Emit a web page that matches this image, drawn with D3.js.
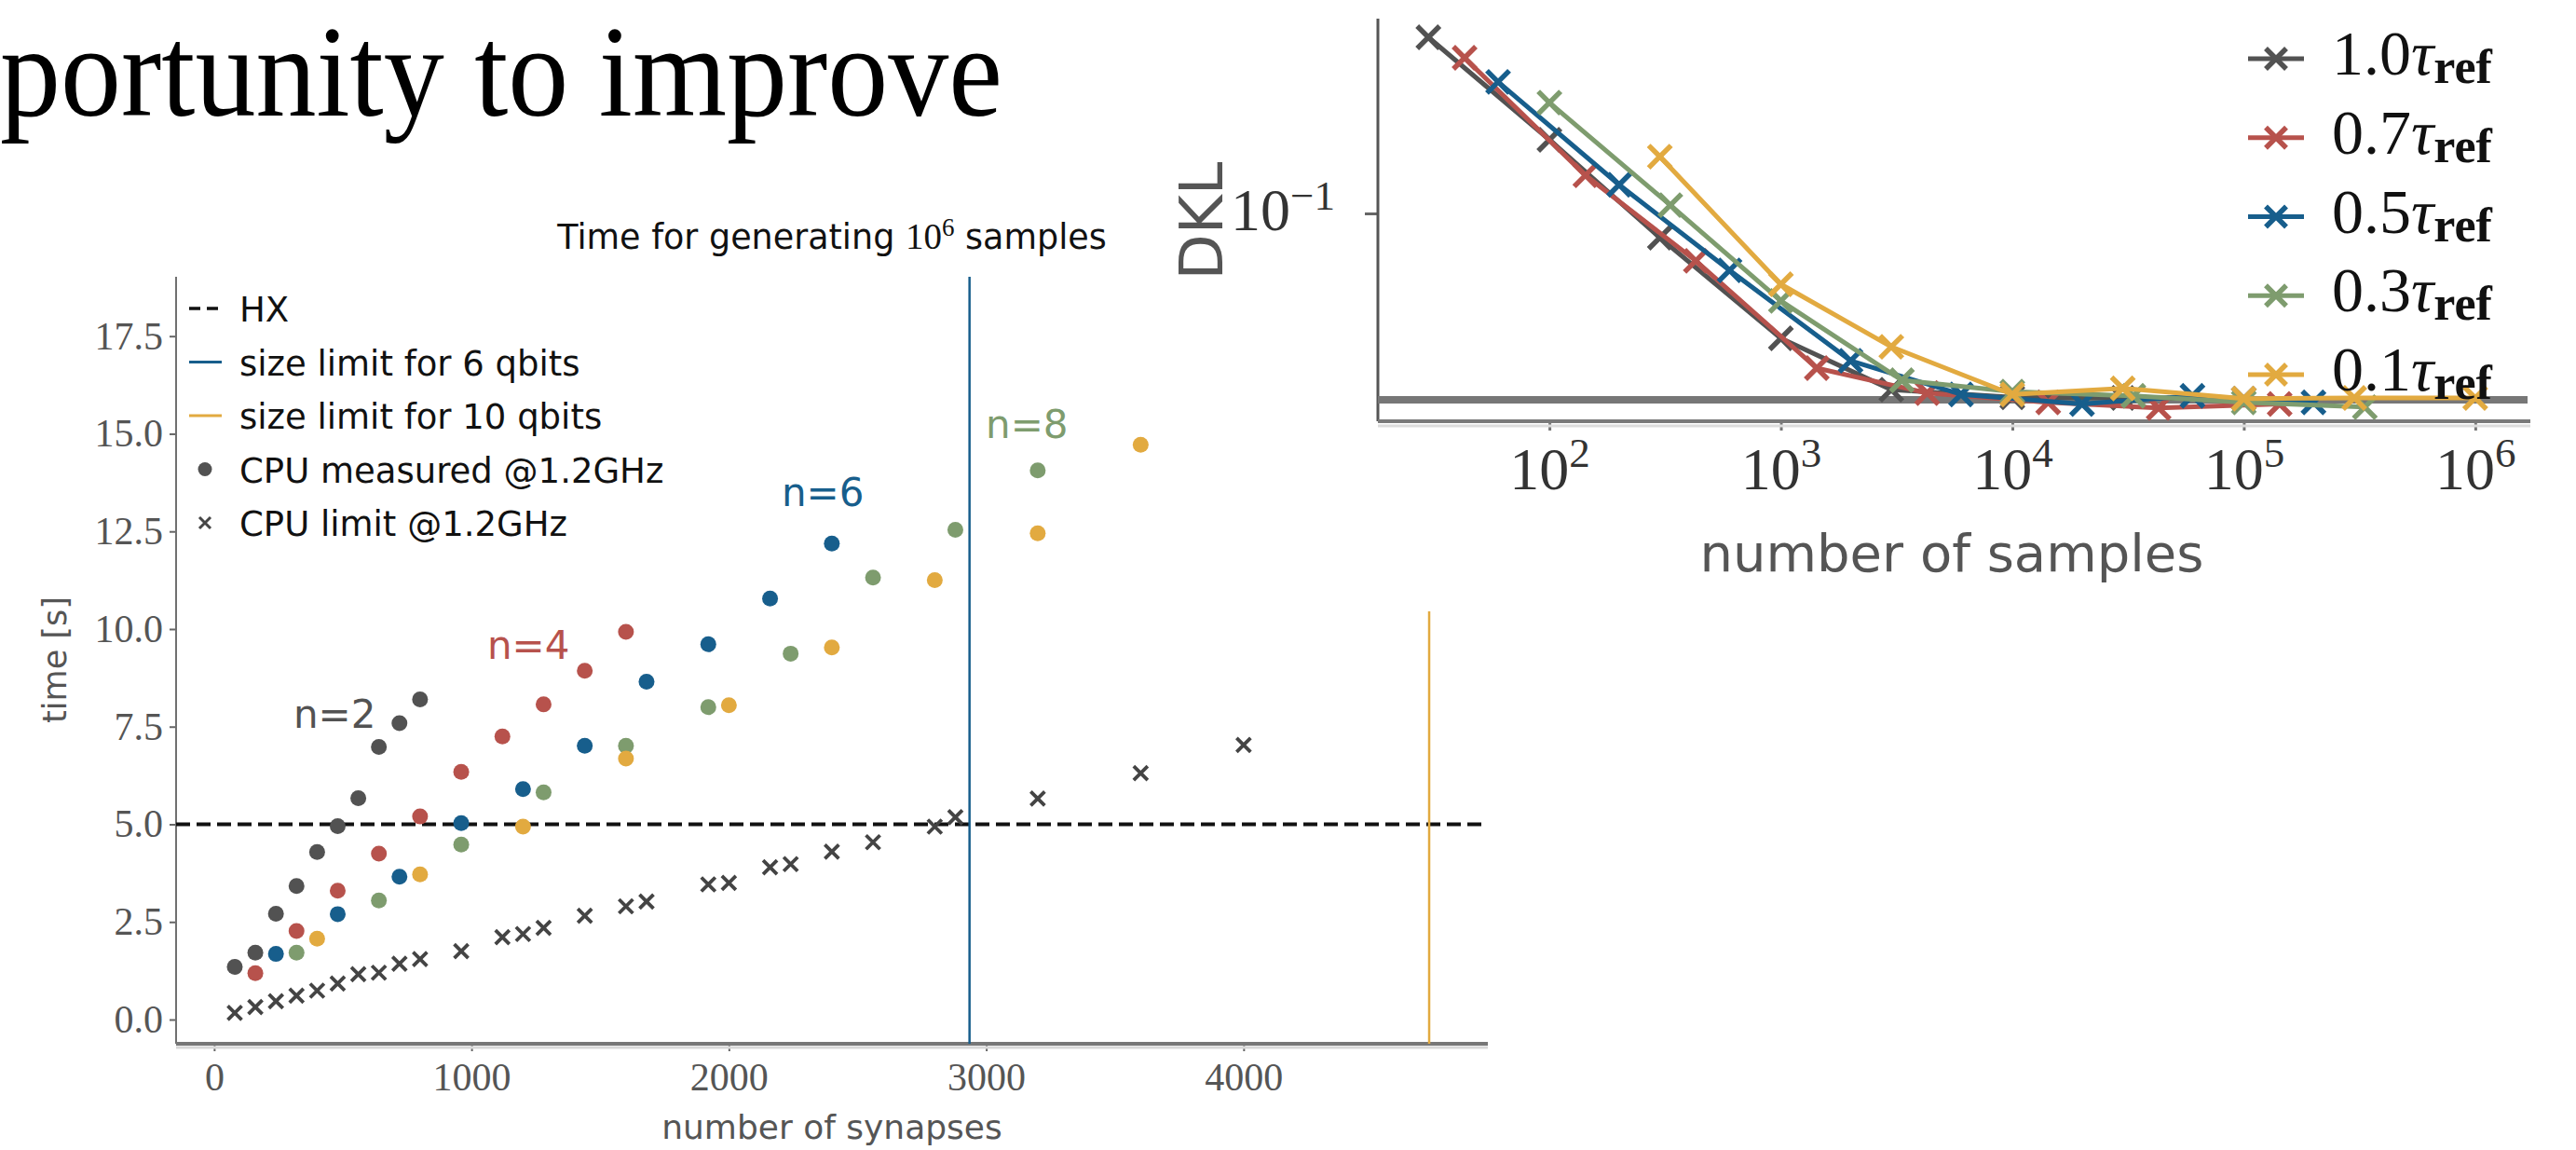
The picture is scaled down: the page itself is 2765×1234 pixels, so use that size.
<!DOCTYPE html>
<html>
<head>
<meta charset="utf-8">
<script src="https://cdn.jsdelivr.net/npm/d3@7"></script>
<style>
  body { margin: 0; background: #fff; }
  svg { display: block; }
</style>
</head>
<body>
<div id="viz"></div>
<script>
// ---- left chart: time for generating 10^6 samples
var synTicks = [0, 1000, 2000, 3000, 4000];
var timeTicks = [0, 2.5, 5, 7.5, 10, 12.5, 15, 17.5];

var n2Syn = [80, 160, 240, 320, 400, 480, 560, 640, 720, 800];
var n2Time = [1.35, 1.71, 2.71, 3.42, 4.29, 4.95, 5.67, 6.98, 7.59, 8.20];
var n4Syn = [160, 320, 480, 640, 800, 960, 1120, 1280, 1440, 1600];
var n4Time = [1.19, 2.27, 3.30, 4.25, 5.20, 6.34, 7.25, 8.07, 8.93, 9.93];
var n6Syn = [240, 480, 720, 960, 1200, 1440, 1680, 1920, 2160, 2400];
var n6Time = [1.68, 2.70, 3.66, 5.03, 5.90, 7.01, 8.65, 9.61, 10.78, 12.19];
var n8Syn = [320, 640, 960, 1280, 1600, 1920, 2240, 2560, 2880, 3200];
var n8Time = [1.71, 3.05, 4.48, 5.82, 7.01, 8.00, 9.37, 11.32, 12.54, 14.06];
var n10Syn = [400, 800, 1200, 1600, 2000, 2400, 2800, 3200, 3600];
var n10Time = [2.07, 3.72, 4.94, 6.68, 8.05, 9.53, 11.25, 12.45, 14.72];

var cpuLimitSyn = [80, 160, 240, 320, 400, 480, 560, 640, 720, 800, 960, 1120, 1200, 1280, 1440,
                   1600, 1680, 1920, 2000, 2160, 2240, 2400, 2560, 2800, 2880, 3200, 3600, 4000];
var cpuLimitTime = [0.17, 0.32, 0.47, 0.61, 0.74, 0.92, 1.16, 1.20, 1.43, 1.55, 1.75, 2.11, 2.19, 2.35, 2.66,
                    2.90, 3.02, 3.46, 3.50, 3.90, 3.98, 4.30, 4.54, 4.94, 5.18, 5.66, 6.31, 7.03];

var hxTime = 5.0;
var limit6Syn = 2935;
var limit10Syn = 4721;
var limit10Top = 10.45;

var nLabels = ["n=2", "n=4", "n=6", "n=8"];
var nLabelSyn = [308, 1061, 2205, 2998];
var nLabelTime = [7.47, 9.24, 13.15, 14.89];

// ---- right chart: DKL vs number of samples
var sampleTicks = [1e2, 1e3, 1e4, 1e5, 1e6];
var tauLabels = ["1.0", "0.7", "0.5", "0.3", "0.1"];
var tau10N = [30, 100, 300, 1000, 3000, 10000, 30000, 100000];
var tau10D = [0.757, 0.233, 0.0757, 0.0238, 0.0132, 0.0121, 0.0120, 0.0119];
var tau07N = [43, 143, 429, 1429, 4286, 14286, 42857, 142857];
var tau07D = [0.598, 0.155, 0.058, 0.0169, 0.0127, 0.0114, 0.0107, 0.0112];
var tau05N = [60, 200, 600, 2000, 6000, 20000, 60000, 200000];
var tau05D = [0.453, 0.139, 0.052, 0.0184, 0.0125, 0.0112, 0.0123, 0.0114];
var tau03N = [100, 333, 1000, 3333, 10000, 33333, 100000, 333333];
var tau03D = [0.357, 0.110, 0.0366, 0.0147, 0.0129, 0.0123, 0.0114, 0.0108];
var tau01N = [300, 1000, 3000, 10000, 30000, 100000, 300000, 1000000];
var tau01D = [0.192, 0.0443, 0.0216, 0.0125, 0.0134, 0.0119, 0.0120, 0.0120];
var dklFloor = 0.01175;

var colGray = "#525252", colRed = "#b7524c", colBlue = "#175e8c", colGreen = "#7e9c6e", colOrange = "#e2aa40";
var sans = "'DejaVu Sans', sans-serif";
var serif = "'Liberation Serif', serif";

var svg = d3.select("#viz")
  .append("svg")
    .attr("width", 2765)
    .attr("height", 1234);
svg.append("rect").attr("width", 2765).attr("height", 1234).attr("fill", "#fff");

// slide title (the start of the sentence is off the slide)
svg.append("text")
  .attr("x", 0).attr("y", 124)
  .attr("font-family", serif)
  .attr("font-size", 140)
  .attr("textLength", 1076)
  .attr("lengthAdjust", "spacingAndGlyphs")
  .attr("fill", "#000")
  .text("portunity to improve");

// little helper for x-shaped markers
var crossPath = function(h) {
  return "M" + (-h) + "," + (-h) + "L" + h + "," + h + "M" + (-h) + "," + h + "L" + h + "," + (-h);
}

// ===================== left chart =====================
var lx = d3.scaleLinear().domain([-148, 4949]).range([189, 1597]);
var ly = d3.scaleLinear().domain([-0.62, 19.02]).range([1120, 297]);

// x axis
var gx = svg.append("g")
  .attr("transform", "translate(0,1120)")
  .call(d3.axisBottom(lx).tickValues(synTicks).tickFormat(d3.format("d")).tickSize(8).tickPadding(12));
gx.select(".domain").remove();
gx.selectAll("line").attr("stroke", "#666").attr("stroke-width", 2);
gx.selectAll("text").attr("font-family", serif).attr("font-size", 42).attr("fill", "#555");

// y axis
var gy = svg.append("g")
  .attr("transform", "translate(189,0)")
  .call(d3.axisLeft(ly).tickValues(timeTicks).tickFormat(d3.format(".1f")).tickSize(7).tickPadding(7));
gy.select(".domain").remove();
gy.selectAll("line").attr("stroke", "#666").attr("stroke-width", 2);
gy.selectAll("text").attr("font-family", serif).attr("font-size", 42).attr("fill", "#555");

// spines
svg.append("line").attr("x1", 189).attr("x2", 189).attr("y1", 297).attr("y2", 1120)
  .attr("stroke", "#707070").attr("stroke-width", 2);
svg.append("line").attr("x1", 189).attr("x2", 1597).attr("y1", 1124).attr("y2", 1124)
  .attr("stroke", "#d8d8d8").attr("stroke-width", 3);
svg.append("line").attr("x1", 189).attr("x2", 1597).attr("y1", 1120).attr("y2", 1120)
  .attr("stroke", "#777").attr("stroke-width", 4);

// HX line and size limits
svg.append("line")
  .attr("x1", lx(-148)).attr("x2", lx(4949)).attr("y1", ly(hxTime)).attr("y2", ly(hxTime))
  .attr("stroke", "#111").attr("stroke-width", 4).attr("stroke-dasharray", "15,7");
svg.append("line")
  .attr("x1", lx(limit6Syn)).attr("x2", lx(limit6Syn)).attr("y1", ly(-0.62)).attr("y2", ly(19.02))
  .attr("stroke", colBlue).attr("stroke-width", 2.5);
svg.append("line")
  .attr("x1", lx(limit10Syn)).attr("x2", lx(limit10Syn)).attr("y1", ly(-0.62)).attr("y2", ly(limit10Top))
  .attr("stroke", colOrange).attr("stroke-width", 2.5);

// CPU limit crosses
var cpuLimit = cpuLimitSyn.map(function(s, i) { return {syn: s, time: cpuLimitTime[i]}; });
svg.selectAll(".cpulimit")
  .data(cpuLimit)
  .enter()
  .append("path")
    .attr("class", "cpulimit")
    .attr("transform", function(d) { return "translate(" + lx(d.syn) + "," + ly(d.time) + ")"; })
    .attr("d", crossPath(7.5))
    .attr("stroke", "#444")
    .attr("stroke-width", 3.8)
    .attr("fill", "none");

// CPU measured dots
var measured = [
  {syn: n2Syn, time: n2Time, color: colGray},
  {syn: n4Syn, time: n4Time, color: colRed},
  {syn: n6Syn, time: n6Time, color: colBlue},
  {syn: n8Syn, time: n8Time, color: colGreen},
  {syn: n10Syn, time: n10Time, color: colOrange}
];
measured.forEach(function(series) {
  var pts = series.syn.map(function(s, i) { return {syn: s, time: series.time[i]}; });
  svg.append("g").selectAll("circle")
    .data(pts)
    .enter()
    .append("circle")
      .attr("cx", function(d) { return lx(d.syn); })
      .attr("cy", function(d) { return ly(d.time); })
      .attr("r", 8.5)
      .attr("fill", series.color);
});

// n= labels
var nColors = [colGray, colRed, colBlue, colGreen];
svg.selectAll(".nlabel")
  .data(nLabels)
  .enter()
  .append("text")
    .attr("x", function(d, i) { return lx(nLabelSyn[i]); })
    .attr("y", function(d, i) { return ly(nLabelTime[i]); })
    .attr("font-family", sans)
    .attr("font-size", 42)
    .attr("fill", function(d, i) { return nColors[i]; })
    .text(function(d) { return d; });

// title
var lt = svg.append("text")
  .attr("x", 893).attr("y", 267)
  .attr("text-anchor", "middle")
  .attr("font-family", sans)
  .attr("font-size", 36.5)
  .attr("fill", "#111");
lt.append("tspan").text("Time for generating ");
lt.append("tspan").attr("font-family", serif).attr("font-size", 39).text("10");
lt.append("tspan").attr("font-family", serif).attr("font-size", 27).attr("dy", -14).text("6");
lt.append("tspan").attr("dy", 14).text(" samples");

// axis labels
svg.append("text")
  .attr("x", 893).attr("y", 1222)
  .attr("text-anchor", "middle")
  .attr("font-family", sans).attr("font-size", 36).attr("fill", "#555")
  .text("number of synapses");
svg.append("text")
  .attr("transform", "translate(71,708) rotate(-90)")
  .attr("text-anchor", "middle")
  .attr("font-family", sans).attr("font-size", 35).attr("fill", "#555")
  .text("time [s]");

// legend
var legendRows = [
  {label: "HX", kind: "dash", color: "#111"},
  {label: "size limit for 6 qbits", kind: "line", color: colBlue},
  {label: "size limit for 10 qbits", kind: "line", color: colOrange},
  {label: "CPU measured @1.2GHz", kind: "dot", color: colGray},
  {label: "CPU limit @1.2GHz", kind: "cross", color: "#464646"}
];
var leg = svg.append("g");
legendRows.forEach(function(row, i) {
  var base = 345 + i * 57.5;
  var my = base - 14;
  if (row.kind == "dash") {
    leg.append("line").attr("x1", 203).attr("x2", 238).attr("y1", my).attr("y2", my)
      .attr("stroke", row.color).attr("stroke-width", 3.5).attr("stroke-dasharray", "12,7");
  } else if (row.kind == "line") {
    leg.append("line").attr("x1", 203).attr("x2", 238).attr("y1", my).attr("y2", my)
      .attr("stroke", row.color).attr("stroke-width", 3);
  } else if (row.kind == "dot") {
    leg.append("circle").attr("cx", 220).attr("cy", my).attr("r", 7.5).attr("fill", row.color);
  } else {
    leg.append("path").attr("transform", "translate(220," + my + ")").attr("d", crossPath(6))
      .attr("stroke", row.color).attr("stroke-width", 3).attr("fill", "none");
  }
  leg.append("text")
    .attr("x", 257).attr("y", base)
    .attr("font-family", sans).attr("font-size", 37).attr("fill", "#111")
    .text(row.label);
});

// ===================== right chart =====================
var rx = d3.scaleLog().domain([Math.pow(10, 1.259), Math.pow(10, 6.238)]).range([1479, 2716]);
var ry = d3.scaleLog().domain([Math.pow(10, -2.037), Math.pow(10, -0.028)]).range([452, 20]);

// x axis
var rgx = svg.append("g")
  .attr("transform", "translate(0,452)")
  .call(d3.axisBottom(rx).tickValues(sampleTicks).tickFormat("").tickSize(10));
rgx.select(".domain").remove();
rgx.selectAll("line").attr("stroke", "#777").attr("stroke-width", 3);
rgx.selectAll(".tick").each(function(d) {
  var t = d3.select(this).append("text")
    .attr("y", 73)
    .attr("text-anchor", "middle")
    .attr("font-family", serif)
    .attr("fill", "#333");
  t.append("tspan").attr("font-size", 64).text("10");
  t.append("tspan").attr("font-size", 45).attr("dy", -24).text(Math.round(Math.log10(d)));
});

// y axis
var rgy = svg.append("g")
  .attr("transform", "translate(1479,0)")
  .call(d3.axisLeft(ry).tickValues([0.1]).tickFormat("").tickSize(14));
rgy.select(".domain").remove();
rgy.selectAll("line").attr("stroke", "#666").attr("stroke-width", 3);
var yt = svg.append("text")
  .attr("x", 1321).attr("y", ry(0.1) + 18)
  .attr("font-family", serif)
  .attr("fill", "#333");
yt.append("tspan").attr("font-size", 64).text("10");
yt.append("tspan").attr("font-size", 45).attr("dy", -22).text("\u22121");

// spines
svg.append("line").attr("x1", 1479).attr("x2", 1479).attr("y1", 20).attr("y2", 452)
  .attr("stroke", "#555").attr("stroke-width", 3);
svg.append("line").attr("x1", 1479).attr("x2", 2716).attr("y1", 457).attr("y2", 457)
  .attr("stroke", "#dcdcdc").attr("stroke-width", 3);
svg.append("line").attr("x1", 1479).attr("x2", 2716).attr("y1", 452).attr("y2", 452)
  .attr("stroke", "#7a7a7a").attr("stroke-width", 4);

// floor line
svg.append("line")
  .attr("x1", 1479).attr("x2", 2713).attr("y1", ry(dklFloor)).attr("y2", ry(dklFloor))
  .attr("stroke", "#777").attr("stroke-width", 8);

// the tau series
var tauSeries = [
  {id: tauLabels[0], n: tau10N, dkl: tau10D, color: colGray},
  {id: tauLabels[1], n: tau07N, dkl: tau07D, color: colRed},
  {id: tauLabels[2], n: tau05N, dkl: tau05D, color: colBlue},
  {id: tauLabels[3], n: tau03N, dkl: tau03D, color: colGreen},
  {id: tauLabels[4], n: tau01N, dkl: tau01D, color: colOrange}
];
var dklLine = d3.line()
  .x(function(d) { return rx(d.n); })
  .y(function(d) { return ry(d.dkl); });
tauSeries.forEach(function(s) {
  var pts = s.n.map(function(v, i) { return {n: v, dkl: s.dkl[i]}; });
  var g = svg.append("g");
  g.append("path")
    .attr("d", dklLine(pts))
    .attr("fill", "none")
    .attr("stroke", s.color)
    .attr("stroke-width", 5)
    .attr("stroke-linejoin", "round");
  g.selectAll("path.mark")
    .data(pts)
    .enter()
    .append("path")
      .attr("class", "mark")
      .attr("transform", function(d) { return "translate(" + rx(d.n) + "," + ry(d.dkl) + ")"; })
      .attr("d", crossPath(12))
      .attr("stroke", s.color)
      .attr("stroke-width", 5.5)
      .attr("fill", "none");
});

// legend
tauSeries.forEach(function(s, i) {
  var cy = 63 + i * 84.75;
  svg.append("line").attr("x1", 2413).attr("x2", 2473).attr("y1", cy).attr("y2", cy)
    .attr("stroke", s.color).attr("stroke-width", 5);
  svg.append("path").attr("transform", "translate(2443," + cy + ")").attr("d", crossPath(11))
    .attr("stroke", s.color).attr("stroke-width", 5.5).attr("fill", "none");
  var t = svg.append("text")
    .attr("x", 2503).attr("y", cy + 17)
    .attr("font-family", serif)
    .attr("fill", "#111");
  t.append("tspan").attr("font-size", 68).text(s.id);
  t.append("tspan").attr("font-size", 68).attr("font-style", "italic").text("\u03C4");
  t.append("tspan").attr("font-size", 52).attr("font-weight", "bold").attr("dy", 9).text("ref");
});

// axis labels
svg.append("text")
  .attr("x", 2095).attr("y", 613)
  .attr("text-anchor", "middle")
  .attr("font-family", sans).attr("font-size", 56).attr("fill", "#555")
  .text("number of samples");
svg.append("text")
  .attr("transform", "translate(1312,237) rotate(-90)")
  .attr("text-anchor", "middle")
  .attr("font-family", sans).attr("font-size", 64).attr("fill", "#555")
  .text("DKL");
</script>
</body>
</html>
